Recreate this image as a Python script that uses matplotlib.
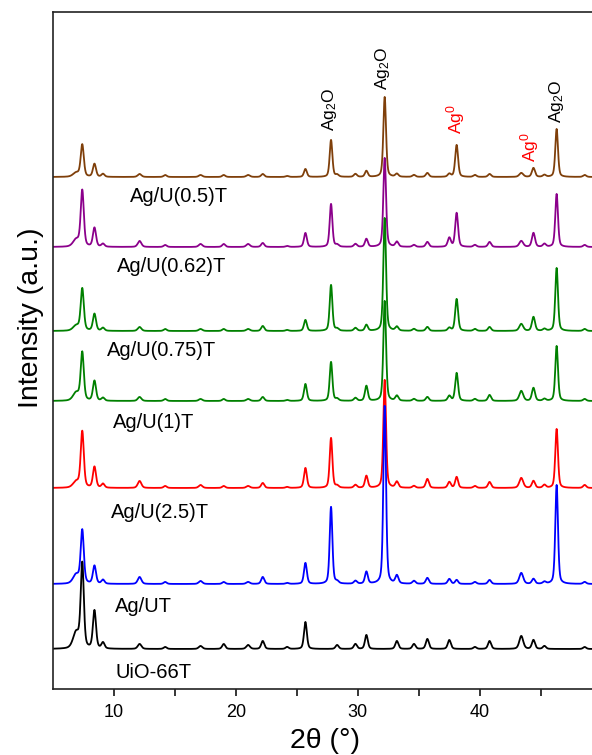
import numpy as np
import matplotlib
matplotlib.use("Agg")
import matplotlib.pyplot as plt

plt.rcParams['font.family'] = ['Liberation Sans', 'DejaVu Sans']
plt.rcParams['mathtext.fontset'] = 'custom'
plt.rcParams['mathtext.rm'] = 'Liberation Sans'
plt.rcParams['mathtext.it'] = 'Liberation Sans:italic'
plt.rcParams['mathtext.bf'] = 'Liberation Sans:bold'

# ---------------- data ----------------
two_theta = np.arange(5.0, 49.3, 0.02)

peak_pos   = [6.9, 7.4, 8.4, 9.1, 12.1, 14.2, 17.1, 19.0, 21.0, 22.2, 24.2, 25.7, 27.8, 28.3,
              29.8, 30.7, 32.2, 33.2, 34.6, 35.7, 37.5, 38.1, 39.6, 40.8, 43.4, 44.4, 45.3, 46.3, 48.6]
peak_fwhm  = [0.6, 0.3, 0.3, 0.3, 0.35, 0.3, 0.35, 0.3, 0.35, 0.3, 0.3, 0.28, 0.26, 0.3,
              0.3, 0.28, 0.26, 0.3, 0.3, 0.3, 0.3, 0.28, 0.3, 0.3, 0.38, 0.3, 0.3, 0.26, 0.3]

samples = ['Ag/U(0.5)T', 'Ag/U(0.62)T', 'Ag/U(0.75)T', 'Ag/U(1)T', 'Ag/U(2.5)T', 'Ag/UT', 'UiO-66T']
colors  = ['#7f3f0a', '#8b008b', '#008000', '#008000', '#ff0000', '#0000ff', '#000000']
offsets = [512, 442, 358, 288, 201, 105, 40]

h_05   = [4, 32, 13, 3, 3, 2, 2, 2, 2, 3, 1, 8, 37, 2, 3, 6, 80, 3, 2, 4, 3, 32, 2, 3, 4, 9, 2, 48, 2]
h_062  = [7, 56, 19, 3, 6, 2, 3, 3, 3, 4, 1, 14, 43, 2, 3, 8, 89, 5, 2, 5, 9, 34, 2, 5, 6, 14, 3, 53, 2]
h_075  = [5, 42, 17, 3, 4, 2, 2, 2, 2, 5, 1, 11, 46, 2, 3, 6, 113, 4, 2, 4, 3, 32, 2, 4, 7, 14, 2, 63, 2]
h_1    = [8, 48, 20, 3, 4, 2, 2, 2, 2, 4, 1, 17, 39, 2, 3, 15, 100, 5, 2, 4, 5, 28, 2, 6, 10, 13, 2, 55, 2]
h_25   = [6, 56, 21, 4, 7, 2, 3, 2, 2, 5, 1, 20, 50, 2, 3, 12, 108, 6, 2, 9, 6, 11, 2, 6, 10, 7, 3, 59, 3]
h_ag   = [9, 53, 18, 4, 7, 2, 3, 2, 2, 7, 1, 21, 77, 2, 3, 12, 178, 8, 3, 6, 5, 4, 2, 4, 11, 5, 2, 99, 2]
h_uio  = [16, 84, 38, 6, 5, 2, 3, 5, 4, 8, 2, 27, 0, 4, 5, 14, 0, 8, 5, 10, 9, 0, 2, 8, 13, 9, 3, 0, 2]
heights = [h_05, h_062, h_075, h_1, h_25, h_ag, h_uio]

label_x = [11.3, 10.25, 9.4, 9.9, 9.75, 10.1, 10.1]
label_y = [493, 423, 339, 267, 177, 82, 17]

annot_text  = ['Ag$_2$O', 'Ag$_2$O', 'Ag$^0$', 'Ag$^0$', 'Ag$_2$O']
annot_x     = [27.7, 32.0, 38.0, 44.1, 46.3]
annot_y     = [580, 621, 570, 542, 588]
annot_color = ['black', 'black', 'red', 'red', 'black']


def pattern(hs):
    y = np.zeros_like(two_theta)
    for p, w, h in zip(peak_pos, peak_fwhm, hs):
        g = np.exp(-4 * np.log(2) * ((two_theta - p) / w) ** 2)
        lo = 1.0 / (1.0 + 4 * ((two_theta - p) / w) ** 2)
        y += h * (0.6 * g + 0.4 * lo)
    return y


fig = plt.figure(figsize=(5.92, 7.55), dpi=100)
ax = fig.add_axes([53 / 592, 66 / 755, 539 / 592, 677 / 755])

for name, c, off, hs in zip(samples, colors, offsets, heights):
    ax.plot(two_theta, pattern(hs) + off, color=c, lw=1.3)

for name, lx, ly in zip(samples, label_x, label_y):
    ax.text(lx, ly, name, fontsize=14.5, ha='left', va='center', color='black')

for t, x, y, c in zip(annot_text, annot_x, annot_y, annot_color):
    ax.text(x, y, t, rotation=90, fontsize=12.5, ha='center', va='center', color=c)

ax.set_xlim(5, 49.2)
ax.set_ylim(0, 677)
ax.set_xticks([10, 20, 30, 40])
ax.set_xticks([15, 25, 35, 45], minor=True)
ax.tick_params(axis='x', which='both', direction='out', length=5, width=1.1, labelsize=13, pad=6)
ax.set_yticks([])
ax.spines['right'].set_visible(False)
for s in ['left', 'top', 'bottom']:
    ax.spines[s].set_linewidth(1.2)
    ax.spines[s].set_color('#222222')

ax.set_xlabel('2θ (°)', fontsize=20.5)
ax.xaxis.set_label_coords(0.505, -0.058)
ax.set_ylabel('Intensity (a.u.)', fontsize=20.5)
ax.yaxis.set_label_coords(-0.017, 0.548)

fig.savefig('out.png', dpi=100)
